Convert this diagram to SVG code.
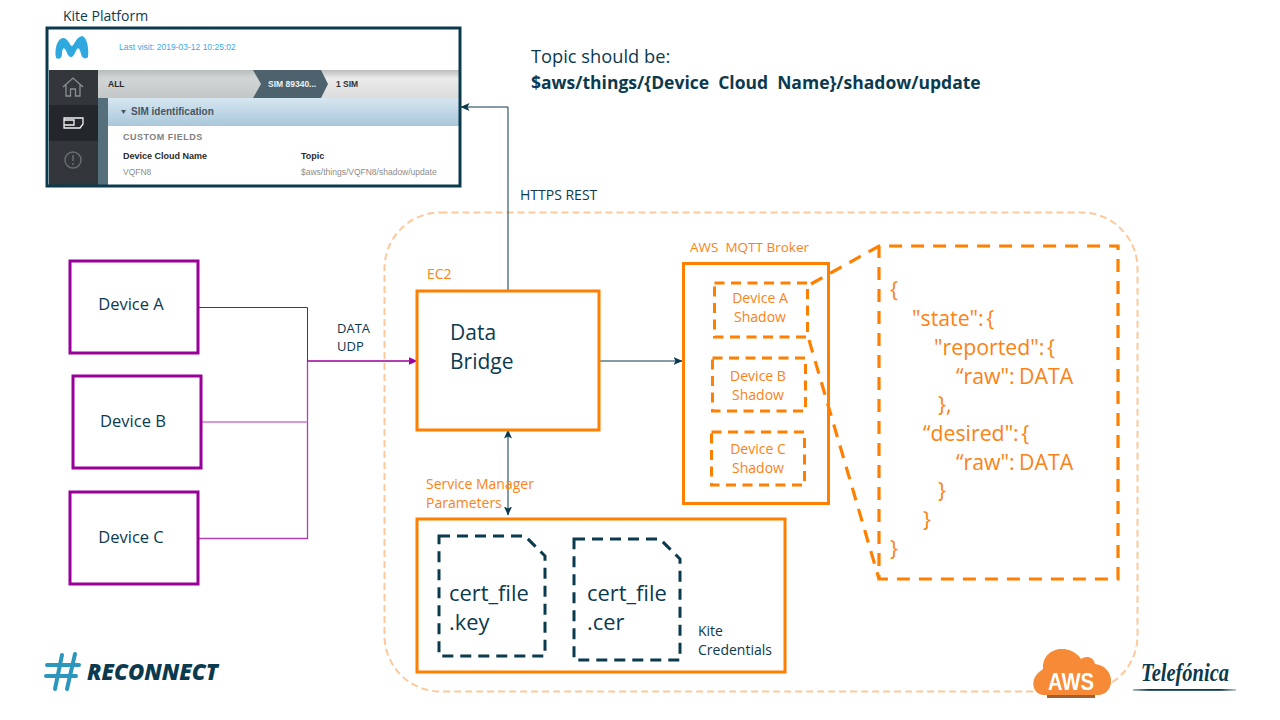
<svg xmlns="http://www.w3.org/2000/svg" width="1280" height="720" viewBox="0 0 1280 720">
<style>
text{font-family:"Open Sans","Noto Sans","Liberation Sans",sans-serif}
.d{fill:#0b3a4f}.o{fill:#fb8216}
.s{font-size:14px}.dt{font-size:16.500px}.sd{font-size:14px}.j{font-size:21.300px}.b{font-size:21px}.ct{font-size:21.900px}
.w{word-spacing:-3px}
.box{fill:#fff;stroke:#ff7f00;stroke-width:3}
.dev{fill:#fff;stroke:#990099;stroke-width:3}
.sh{fill:none;stroke:#ff7f00;stroke-width:3;stroke-dasharray:10 6.500}
.call{fill:none;stroke:#ff7f00;stroke-width:3.200;stroke-dasharray:13 9}
.cert{fill:none;stroke:#0b3a4f;stroke-width:3;stroke-dasharray:11 7}
.a{font-family:"Liberation Sans",Arial,sans-serif;font-size:8.500px}
.k{font-family:"Liberation Sans",Arial,sans-serif;font-size:9px}
.c{fill:none;stroke-width:1}
</style>
<defs>
<marker id="ah" markerWidth="9" markerHeight="8" refX="8.500" refY="4" orient="auto-start-reverse" markerUnits="userSpaceOnUse"><path d="M0 0L9 4L0 8L2 4Z" fill="#0b3a4f"/></marker>
<marker id="ap" markerWidth="9" markerHeight="8" refX="8.500" refY="4" orient="auto" markerUnits="userSpaceOnUse"><path d="M0 0L9 4L0 8L1 4Z" fill="#990099"/></marker>
<linearGradient id="g1" x1="0" y1="0" x2="0" y2="1"><stop offset="0" stop-color="#b9bdbd"/><stop offset=".3" stop-color="#d2d5d5"/><stop offset="1" stop-color="#c3c7c7"/></linearGradient>
<linearGradient id="g2" x1="0" y1="0" x2="0" y2="1"><stop offset="0" stop-color="#bdbdbd"/><stop offset=".3" stop-color="#ebebeb"/><stop offset="1" stop-color="#dcdcdc"/></linearGradient>
<linearGradient id="g3" x1="0" y1="0" x2="0" y2="1"><stop offset="0" stop-color="#d6e6f1"/><stop offset="1" stop-color="#a9c8da"/></linearGradient>
<linearGradient id="g4" x1="0" y1="0" x2="1" y2="0"><stop offset="0" stop-color="#0b3a4f" stop-opacity=".4"/><stop offset=".15" stop-color="#0b3a4f"/><stop offset=".85" stop-color="#0b3a4f"/><stop offset="1" stop-color="#0b3a4f" stop-opacity=".3"/></linearGradient>
</defs>
<rect width="1280" height="720" fill="#fff"/>

<rect id="aws-region" x="384.500" y="212.500" width="753" height="479" rx="56" fill="none" stroke="#fcc99c" stroke-width="2" stroke-dasharray="7 4"/>

<g id="kite-platform">
<text x="63" y="21" class="s d">Kite Platform</text>
<rect x="47" y="28" width="413" height="158" fill="#fff"/>
<path d="M56 58C54 48 58 38 63 38C68 38 70 46 72 46C74 46 76 37 82 36C87 37 89 48 88 57C85 60 82 58 81 54C80 50 79 47 77 49C75 52 74 57 71 57C68 57 67 52 65 49C63 47 62 50 62 54C62 58 59 60 56 58Z" fill="#2fa8e0"/>
<text x="119" y="50" class="a" fill="#3fa9e6">Last visit: 2019-03-12 10:25:02</text>
<rect x="49" y="70" width="49" height="115" fill="#33363b"/>
<rect x="49" y="105" width="49" height="36" fill="#23262b"/>
<rect x="98" y="70" width="361" height="28" fill="url(#g2)"/>
<path d="M98 70H253L261 84L253 98H98Z" fill="url(#g1)"/>
<path d="M253 70H321L328 84L321 98H253L261 84Z" fill="#4e626d"/>
<rect x="98" y="98" width="10" height="87" fill="#55707b"/>
<rect x="108" y="98" width="351" height="28" fill="url(#g3)"/>
<path d="M63 87L73 78L83 87M66 85V96H70.500V89H75.500V96H80V85" fill="none" stroke="#8d8f91" stroke-width="1.300"/>
<path d="M64 118H83V124L80 128H64ZM64 120H74V125H64" fill="none" stroke="#f2f2f2" stroke-width="1.300"/>
<circle cx="73" cy="160" r="8" fill="none" stroke="#6b6d70" stroke-width="1.500"/>
<path d="M73 155V161M73 163V165" stroke="#6b6d70" stroke-width="1.500"/>
<text x="108" y="87" class="a" font-weight="700" fill="#2a2a2a">ALL</text>
<text x="268" y="87" class="a" font-weight="700" fill="#eef1f2">SIM 89340...</text>
<text x="336" y="87" class="a" font-weight="700" fill="#333">1 SIM</text>
<path d="M121 110H126L123.500 114Z" fill="#4a5560"/>
<text x="131" y="115" class="k" font-weight="700" fill="#4a5560" style="font-size:10px">SIM identification</text>
<text x="123" y="140" class="k" font-weight="700" fill="#808080" style="letter-spacing:.5px">CUSTOM FIELDS</text>
<text x="123" y="159" class="k" font-weight="700" fill="#2a2a2a">Device Cloud Name</text>
<text x="301" y="159" class="k" font-weight="700" fill="#2a2a2a">Topic</text>
<text x="123" y="175" class="a" fill="#8c8c8c">VQFN8</text>
<text x="301" y="175" class="a" fill="#8c8c8c">$aws/things/VQFN8/shadow/update</text>
<rect x="47" y="28" width="413" height="158" fill="none" stroke="#0b3a4f" stroke-width="3"/>
</g>

<g id="connectors">
<path class="c" stroke="#990099" d="M198 307.500H307.500V361"/>
<path class="c" stroke="#b040b0" style="stroke-width:1.300" d="M307.500 361V538.500H198"/>
<path class="c" stroke="#cc77cc" style="stroke-width:1.500" d="M201 422H307.500"/>
<path class="c" stroke="#990099" style="stroke-width:1.500" d="M307.500 361H417" marker-end="url(#ap)"/>
<path class="c" stroke="#0b3a4f" d="M508 291V107H461" marker-end="url(#ah)"/>
<path class="c" stroke="#0b3a4f" d="M599 361H682" marker-end="url(#ah)"/>
<path class="c" stroke="#0b3a4f" d="M508 430V515" marker-start="url(#ah)" marker-end="url(#ah)"/>
</g>

<g id="labels">
<text x="531" y="63" class="d" style="font-size:18.300px">Topic should be:</text>
<text x="531" y="89" class="d" font-weight="700" xml:space="preserve" style="font-size:17.500px;white-space:pre">$aws/things/{Device  Cloud  Name}/shadow/update</text>
<text x="520" y="200" class="s d">HTTPS REST</text>
<text x="337" y="333" class="s d" style="font-size:13px">DATA</text>
<text x="337" y="351" class="s d" style="font-size:13px">UDP</text>
</g>

<g id="device-a"><rect class="dev" x="70" y="261" width="128" height="92"/><text x="131" y="310" text-anchor="middle" class="dt d">Device A</text></g>
<g id="device-b"><rect class="dev" x="73" y="376" width="128" height="92"/><text x="133" y="427" text-anchor="middle" class="dt d">Device B</text></g>
<g id="device-c"><rect class="dev" x="70" y="492" width="128" height="92"/><text x="131" y="543" text-anchor="middle" class="dt d">Device C</text></g>

<g id="data-bridge"><text x="427" y="279" class="s o">EC2</text><rect class="box" x="417" y="291" width="182" height="139"/><text x="450" y="340" class="b d">Data</text><text x="450" y="369" class="b d">Bridge</text></g>

<g id="mqtt-broker"><text x="690" y="252" class="o" xml:space="preserve" style="font-size:13.500px;white-space:pre">AWS  MQTT Broker</text><rect class="box" x="683.500" y="263.500" width="145" height="240"/></g>
<g id="shadow-a"><rect class="sh" x="714.500" y="283" width="93" height="54"/><text x="760" y="303" text-anchor="middle" class="sd o">Device A</text><text x="760" y="322" text-anchor="middle" class="sd o">Shadow</text></g>
<g id="shadow-b"><rect class="sh" x="712.500" y="358" width="93" height="53"/><text x="758" y="381" text-anchor="middle" class="sd o">Device B</text><text x="758" y="400" text-anchor="middle" class="sd o">Shadow</text></g>
<g id="shadow-c"><rect class="sh" x="711.500" y="432" width="93" height="53"/><text x="758" y="454" text-anchor="middle" class="sd o">Device C</text><text x="758" y="473" text-anchor="middle" class="sd o">Shadow</text></g>

<g id="shadow-callout">
<path class="call" d="M811 284L879 246H1118V579H879V246M809 340L879 579"/>
<g class="j o">
<text x="890" y="297">{</text>
<text x="912" y="326" class="w">"state": {</text>
<text x="934" y="355" class="w">"reported": {</text>
<text x="956" y="384" style="word-spacing:-1px">“raw": DATA</text>
<text x="938" y="412">},</text>
<text x="923" y="441" class="w">“desired": {</text>
<text x="956" y="470" style="word-spacing:-1px">“raw": DATA</text>
<text x="938" y="498">}</text>
<text x="923" y="527">}</text>
<text x="890" y="556">}</text>
</g>
</g>

<g id="credentials">
<text x="426" y="489" class="s o">Service Manager</text><text x="426" y="508" class="s o">Parameters</text>
<rect class="box" x="417" y="519" width="368" height="153"/>
<text x="698" y="636" class="s d">Kite</text><text x="698" y="655" class="s d">Credentials</text>
</g>
<g id="cert-key"><path class="cert" d="M439 536H525L545 556V656H439Z"/><text x="449" y="601" class="ct d">cert_file</text><text x="449" y="630" class="ct d">.key</text></g>
<g id="cert-cer"><path class="cert" d="M574 539H660L680 559V660H574Z"/><text x="587" y="601" class="ct d">cert_file</text><text x="587" y="630" class="ct d">.cer</text></g>

<g id="reconnect-logo">
<path d="M62 655L55 689M75 654L67 689M47 665H79M46 676H76" fill="none" stroke="#2d96bd" stroke-width="4" stroke-linecap="round"/>
<text x="87" y="680" font-style="italic" font-weight="800" fill="#0b3a4f" style="font-family:'Open Sans','Liberation Sans',sans-serif;font-size:22px" textLength="131" lengthAdjust="spacingAndGlyphs">RECONNECT</text>
</g>

<g id="aws-logo">
<path d="M1043 695C1034 694 1031 684 1035 677C1038 672 1042 670 1043 669C1042 656 1052 648 1064 649C1072 650 1078 654 1081 659C1086 655 1094 657 1095 664C1105 665 1112 673 1111 683C1110 690 1105 695 1098 695Z" fill="#f68a36"/>
<rect x="1047" y="695" width="48" height="3" fill="#a85e2c"/>
<text x="1071" y="690" text-anchor="middle" fill="#fff" font-weight="700" style="font-family:'Liberation Sans',sans-serif;font-size:24px" textLength="46" lengthAdjust="spacingAndGlyphs">AWS</text>
</g>

<g id="telefonica-logo">
<text x="1141" y="681" font-style="italic" font-weight="700" fill="#0b3a4f" style="font-family:'Liberation Serif',serif;font-size:26px" textLength="88" lengthAdjust="spacingAndGlyphs">Telefónica</text>
<rect x="1133" y="689" width="103" height="1.800" fill="url(#g4)"/>
</g>
</svg>
